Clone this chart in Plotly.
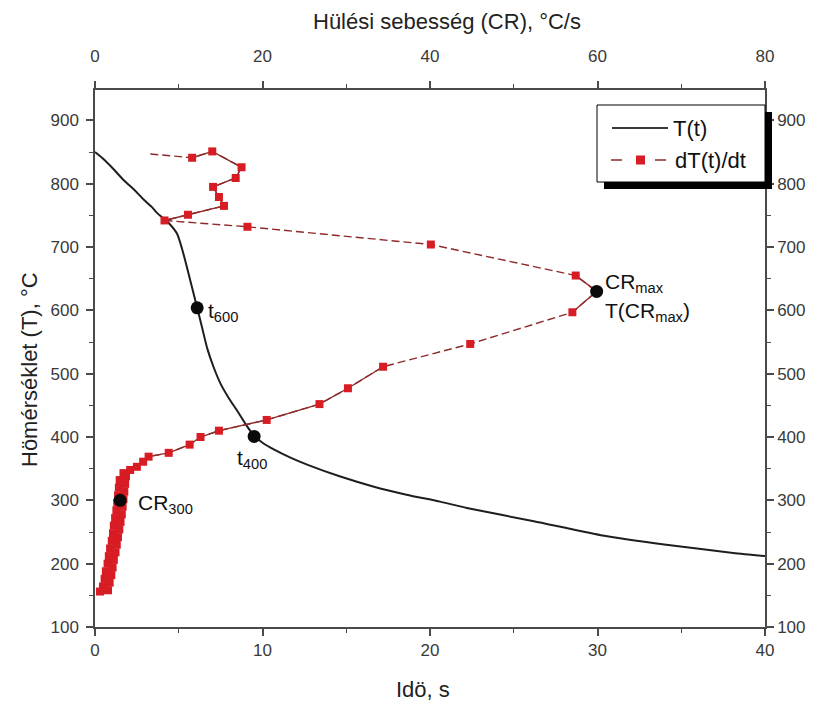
import plotly.graph_objects as go

# ---- T(t) cooling curve (bottom x axis: time, s ; left y axis: T, °C)
time_s = [0, 0.5, 1.0, 1.7, 2.4, 2.9, 3.4, 3.7, 4.1, 4.4, 4.9, 5.2, 5.5, 5.7, 6.1, 6.4,
          6.7, 7.1, 7.5, 8.0, 8.5, 9.0, 9.5, 10.0, 10.7, 11.7, 12.7, 14.6, 16.6, 18.6,
          20.6, 22.2, 26.2, 30.2, 34.1, 38.1, 40.0]
temp_c = [850, 839, 826, 806, 789, 775, 763, 754, 745, 738, 721, 697, 667, 646, 604, 572,
          540, 509, 484, 461, 441, 420, 402, 391, 380, 367, 356, 338, 322, 309,
          298, 288, 267, 245, 230, 217, 212]

# ---- dT(t)/dt cooling rate curve (top x axis: CR, °C/s ; left y axis: T, °C)
cr_rate = [6.6, 11.6, 14.0, 17.5, 16.8, 14.1, 14.8, 15.4, 11.1, 8.3, 18.2, 40.1, 57.4, 59.9,
           57.0, 44.8, 34.4, 30.2, 26.8, 20.5, 14.8, 12.6, 11.3, 8.8, 6.4, 5.75, 5.0, 4.2, 3.4,
           3.7, 2.95, 3.6, 2.85, 3.5, 2.75, 3.4, 2.65, 3.3, 2.55, 3.2, 2.4, 3.05, 2.25, 2.9,
           2.15, 2.75, 2.0, 2.6, 1.8, 2.45, 1.65, 2.25, 1.5, 2.1, 1.3, 1.95, 1.15, 1.75, 0.95,
           1.55, 0.6]
cr_temp = [847, 841, 851, 826, 809, 795, 779, 765, 751, 742, 732, 704, 655, 630,
           597, 547, 511, 477, 452, 427, 410, 400, 388, 375, 369, 361, 353, 348, 343,
           338, 332, 326, 320, 314, 308, 302, 296, 290, 284, 278, 272, 266, 260, 254,
           248, 242, 236, 230, 224, 218, 212, 206, 200, 194, 188, 182, 176, 170, 164,
           158, 156]

# characteristic points
t600_pt = (6.1, 604)
t400_pt = (9.5, 401)
crmax_pt = (59.9, 630)
cr300_pt = (3.0, 300)

# index ranges where the rate line is drawn solid (dense raw data)
solid_ranges = [(1, 10), (12, 15), (16, len(cr_rate))]

FONT = "Liberation Sans, Arial, sans-serif"
RED_LINE = "#8e2a2a"
RED_MK = "#d81c24"
AX = "#4a4a4a"

fig = go.Figure()

# T(t)
fig.add_trace(go.Scatter(x=time_s, y=temp_c, mode="lines", xaxis="x", yaxis="y",
                         line=dict(color="#1e1e1e", width=2, shape="spline", smoothing=0.6),
                         showlegend=False, hoverinfo="skip"))

# rate curve: dashed base line
fig.add_trace(go.Scatter(x=cr_rate, y=cr_temp, mode="lines", xaxis="x2", yaxis="y",
                         line=dict(color=RED_LINE, width=1.4, dash="8px,4px"),
                         showlegend=False, hoverinfo="skip"))
# solid parts
for a, b in solid_ranges:
    fig.add_trace(go.Scatter(x=cr_rate[a:b], y=cr_temp[a:b], mode="lines", xaxis="x2", yaxis="y",
                             line=dict(color=RED_LINE, width=1.4),
                             showlegend=False, hoverinfo="skip"))
# markers
fig.add_trace(go.Scatter(x=cr_rate[1:], y=cr_temp[1:], mode="markers", xaxis="x2", yaxis="y",
                         marker=dict(symbol="square", size=8, color=RED_MK, line=dict(width=0)),
                         showlegend=False, hoverinfo="skip"))

# black characteristic markers
fig.add_trace(go.Scatter(x=[t600_pt[0], t400_pt[0]], y=[t600_pt[1], t400_pt[1]], mode="markers",
                         xaxis="x", yaxis="y", marker=dict(size=13, color="#0a0a0a"),
                         showlegend=False, hoverinfo="skip"))
fig.add_trace(go.Scatter(x=[crmax_pt[0], cr300_pt[0]], y=[crmax_pt[1], cr300_pt[1]], mode="markers",
                         xaxis="x2", yaxis="y", marker=dict(size=13, color="#0a0a0a"),
                         showlegend=False, hoverinfo="skip"))

# dummy trace so right axis is drawn
fig.add_trace(go.Scatter(x=[None], y=[None], xaxis="x", yaxis="y2", showlegend=False,
                         hoverinfo="skip"))

axis_common = dict(showline=True, linecolor=AX, linewidth=1.5, ticks="outside", ticklen=7,
                   tickwidth=1.5, tickcolor=AX, showgrid=False, zeroline=False,
                   tickfont=dict(family=FONT, size=17, color="#3a3a3a"))
minor_common = dict(ticks="outside", ticklen=4, tickwidth=1.2, tickcolor=AX, showgrid=False)

fig.update_layout(
    width=829, height=701,
    margin=dict(l=95, r=64, t=90, b=74),
    paper_bgcolor="white", plot_bgcolor="white",
    font=dict(family=FONT, color="#222"),
    xaxis=dict(range=[0, 40], tick0=0, dtick=10, minor=dict(dtick=5, **minor_common),
               anchor="y", **axis_common),
    xaxis2=dict(range=[0, 80], tick0=0, dtick=20, minor=dict(dtick=10, **minor_common),
                overlaying="x", side="top", anchor="y", ticklabelstandoff=12, **axis_common),
    yaxis=dict(range=[100, 948], tick0=100, dtick=100, minor=dict(dtick=50, **minor_common),
               anchor="x", ticklabelstandoff=4, **axis_common),
    yaxis2=dict(range=[100, 948], tick0=100, dtick=100, minor=dict(dtick=50, **minor_common),
                overlaying="y", side="right", anchor="x", **axis_common),
)

def xp(px):
    return (px - 95) / 670.0

def yp(py):
    return (627 - py) / 537.0

TITLE_FONT = dict(size=22, family=FONT, color="#222")
anns = []
# axis titles
anns.append(dict(text="Idö, s", x=xp(423), y=yp(689), xref="paper", yref="paper",
                 xanchor="center", yanchor="middle", showarrow=False, font=TITLE_FONT))
anns.append(dict(text="Hülési sebesség (CR), °C/s", x=xp(447), y=yp(22), xref="paper", yref="paper",
                 xanchor="center", yanchor="middle", showarrow=False, font=TITLE_FONT))
anns.append(dict(text="Hömérséklet (T), °C", x=xp(29), y=yp(370), xref="paper", yref="paper",
                 xanchor="center", yanchor="middle", showarrow=False, textangle=-90, font=TITLE_FONT))

lab_font = dict(size=21, family=FONT, color="#111")
anns.append(dict(text="t<sub>600</sub>", x=t600_pt[0], y=t600_pt[1], xref="x", yref="y",
                 xanchor="left", yanchor="middle", xshift=9, yshift=-4, showarrow=False, font=lab_font))
anns.append(dict(text="t<sub>400</sub>", x=t400_pt[0], y=t400_pt[1], xref="x", yref="y",
                 xanchor="center", yanchor="top", xshift=-2, yshift=-8, showarrow=False, font=lab_font))
anns.append(dict(text="CR<sub>300</sub>", x=cr300_pt[0], y=cr300_pt[1], xref="x2", yref="y",
                 xanchor="left", yanchor="middle", xshift=16, yshift=-4, showarrow=False, font=lab_font))
anns.append(dict(text="CR<sub>max</sub>", x=crmax_pt[0], y=crmax_pt[1], xref="x2", yref="y",
                 xanchor="left", yanchor="bottom", xshift=6, yshift=-7, showarrow=False, font=lab_font))
anns.append(dict(text="T(CR<sub>max</sub>)", x=crmax_pt[0], y=crmax_pt[1], xref="x2", yref="y",
                 xanchor="left", yanchor="top", xshift=6, yshift=-6, showarrow=False, font=lab_font))

# legend texts
LEG_FONT = dict(size=22, family=FONT, color="#111")
anns.append(dict(text="T(t)", x=xp(671), y=yp(128), xref="paper", yref="paper", xanchor="left",
                 yanchor="middle", showarrow=False, font=LEG_FONT))
anns.append(dict(text="dT(t)/dt", x=xp(673), y=yp(160), xref="paper", yref="paper", xanchor="left",
                 yanchor="middle", showarrow=False, font=LEG_FONT))

shapes = [
    dict(type="rect", xref="paper", yref="paper", x0=xp(604), x1=xp(772), y0=yp(112), y1=yp(189),
         fillcolor="black", line=dict(width=0), layer="above"),
    dict(type="rect", xref="paper", yref="paper", x0=xp(597), x1=xp(765), y0=yp(105), y1=yp(182),
         fillcolor="white", line=dict(color="black", width=1), layer="above"),
    dict(type="line", xref="paper", yref="paper", x0=xp(612), x1=xp(668), y0=yp(128), y1=yp(128),
         line=dict(color="#3a3a3a", width=2), layer="above"),
    dict(type="line", xref="paper", yref="paper", x0=xp(611), x1=xp(622), y0=yp(160), y1=yp(160),
         line=dict(color=RED_LINE, width=1.5), layer="above"),
    dict(type="line", xref="paper", yref="paper", x0=xp(655), x1=xp(666), y0=yp(160), y1=yp(160),
         line=dict(color=RED_LINE, width=1.5), layer="above"),
    dict(type="rect", xref="paper", yref="paper", x0=xp(636), x1=xp(645), y0=yp(155.5), y1=yp(164.5),
         fillcolor=RED_MK, line=dict(width=0), layer="above"),
]

fig.update_layout(annotations=anns, shapes=shapes)
fig.write_html("out.html")
